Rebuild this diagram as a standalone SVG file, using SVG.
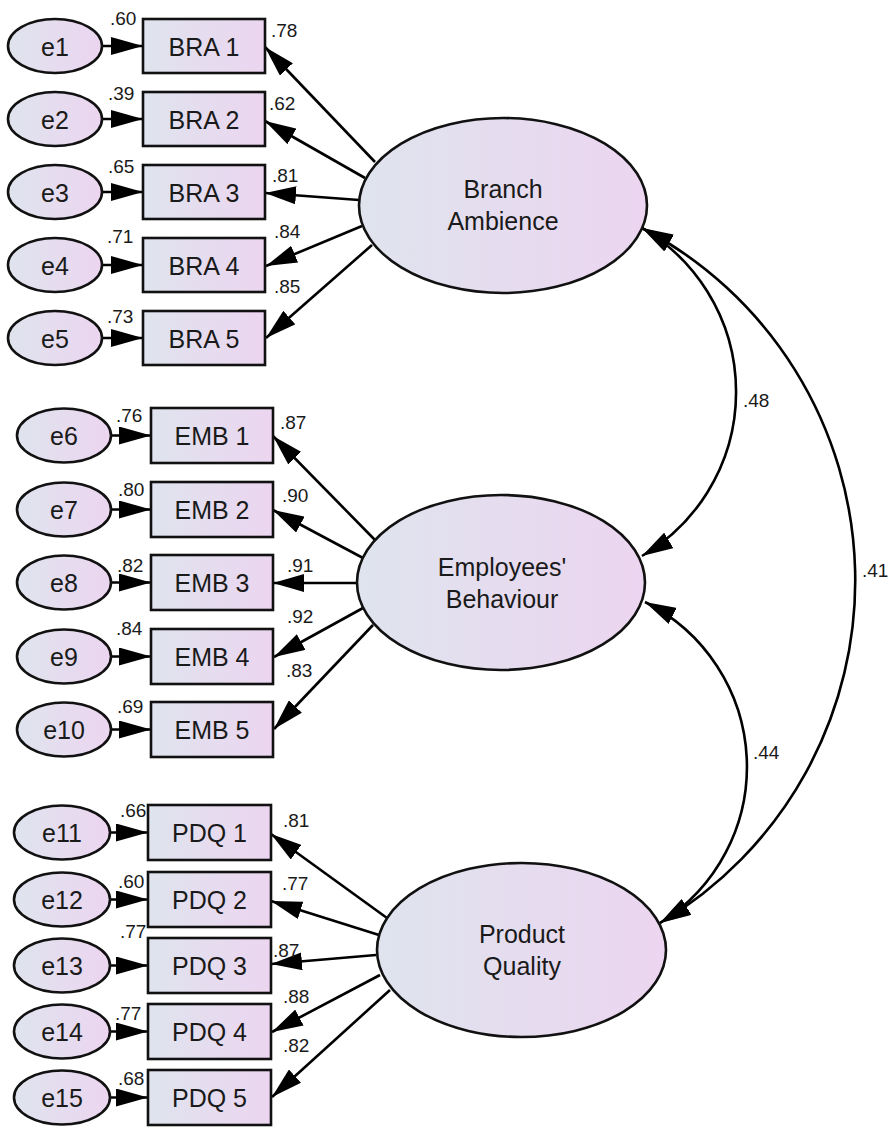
<svg xmlns="http://www.w3.org/2000/svg" width="889" height="1129" viewBox="0 0 889 1129">
<defs>
<linearGradient id="g" x1="0" y1="0" x2="1" y2="0">
<stop offset="0" stop-color="#dfe4ee"/>
<stop offset="1" stop-color="#ecd5f0"/>
</linearGradient>
<marker id="ah" viewBox="0 0 31 18" refX="31" refY="9" markerWidth="31" markerHeight="18" markerUnits="userSpaceOnUse" orient="auto-start-reverse">
<path d="M0,0 L31,9 L0,18 z" fill="#000"/>
</marker>
<marker id="as" viewBox="0 0 32 18" refX="32" refY="9" markerWidth="32" markerHeight="18" markerUnits="userSpaceOnUse" orient="auto">
<path d="M0,0 L32,9 L0,18 z" fill="#000"/>
</marker>
</defs>
<style>
.n{fill:url(#g);stroke:#111;stroke-width:2.6}
.t{font-family:"Liberation Sans",Arial,sans-serif;font-size:25px;fill:#1a1a1a;text-anchor:middle}
.v{font-family:"Liberation Sans",Arial,sans-serif;font-size:19px;fill:#1a1a1a}
.c{fill:none;stroke:#000;stroke-width:2.6}
.l{marker-end:url(#ah)}
.s{marker-end:url(#as)}
.b{marker-start:url(#ah);marker-end:url(#ah)}
</style>
<g id="connectors">
<path class="c s" d="M102 46 H143"/>
<path class="c s" d="M102 119 H143"/>
<path class="c s" d="M102 192 H143"/>
<path class="c s" d="M102 265 H143"/>
<path class="c s" d="M102 338 H143"/>
<path class="c s" d="M111 435.5 H151"/>
<path class="c s" d="M111 509.5 H151"/>
<path class="c s" d="M111 582.5 H151"/>
<path class="c s" d="M111 656.5 H151"/>
<path class="c s" d="M111 729.5 H151"/>
<path class="c s" d="M110 832.5 H148"/>
<path class="c s" d="M110 899.5 H148"/>
<path class="c s" d="M110 965.5 H148"/>
<path class="c s" d="M110 1031.5 H148"/>
<path class="c s" d="M110 1097.5 H148"/>
<path class="c l" d="M375 162 L265 47"/>
<path class="c l" d="M365 178 L265 121"/>
<path class="c l" d="M359 200 L265 193"/>
<path class="c l" d="M362 226 L266 266"/>
<path class="c l" d="M372 245 L266 338"/>
<path class="c l" d="M375 540 L273 436"/>
<path class="c l" d="M363 558 L273 510"/>
<path class="c l" d="M357 583 L273 583"/>
<path class="c l" d="M363 608 L274 657"/>
<path class="c l" d="M373 625 L274 729"/>
<path class="c l" d="M387 918 L271 834"/>
<path class="c l" d="M379 935 L271 901"/>
<path class="c l" d="M376 955 L271 964"/>
<path class="c l" d="M380 975 L272 1032"/>
<path class="c l" d="M390 990 L272 1097"/>
<path class="c b" d="M642 228 A190 190 0 0 1 642 556"/>
<path class="c b" d="M642 228 A398 398 0 0 1 660 923"/>
<path class="c b" d="M645 602 A184 184 0 0 1 660 923"/>
<text class="v" x="743" y="407">.48</text>
<text class="v" x="862" y="577">.41</text>
<text class="v" x="753" y="759">.44</text>
</g>
<g id="BranchAmbience"><ellipse class="n" cx="503" cy="205.5" rx="144" ry="87.5"/><text class="t" x="503" y="198">Branch</text><text class="t" x="503" y="230">Ambience</text></g>
<g id="EmployeesBehaviour"><ellipse class="n" cx="501" cy="582.5" rx="144" ry="87.5"/><text class="t" x="502" y="576">Employees'</text><text class="t" x="502" y="608">Behaviour</text></g>
<g id="ProductQuality"><ellipse class="n" cx="521.5" cy="950" rx="144.5" ry="87"/><text class="t" x="522" y="943">Product</text><text class="t" x="522" y="975">Quality</text></g>
<g id="BRA1"><rect class="n" x="143" y="19" width="122" height="54"/><text class="t" x="204" y="55.5">BRA 1</text><text class="v" x="271" y="37">.78</text></g>
<g id="BRA2"><rect class="n" x="143" y="92" width="122" height="54"/><text class="t" x="204" y="128.5">BRA 2</text><text class="v" x="269" y="110">.62</text></g>
<g id="BRA3"><rect class="n" x="143" y="165" width="122" height="54"/><text class="t" x="204" y="201.5">BRA 3</text><text class="v" x="272" y="182">.81</text></g>
<g id="BRA4"><rect class="n" x="143" y="238" width="122" height="54"/><text class="t" x="204" y="274.5">BRA 4</text><text class="v" x="274" y="238">.84</text></g>
<g id="BRA5"><rect class="n" x="143" y="311" width="122" height="54"/><text class="t" x="204" y="347.5">BRA 5</text><text class="v" x="274" y="293">.85</text></g>
<g id="e1"><ellipse class="n" cx="55" cy="46" rx="47" ry="27"/><text class="t" x="55" y="55.5">e1</text><text class="v" x="110" y="25">.60</text></g>
<g id="e2"><ellipse class="n" cx="55" cy="119" rx="47" ry="27"/><text class="t" x="55" y="128.5">e2</text><text class="v" x="108" y="100">.39</text></g>
<g id="e3"><ellipse class="n" cx="55" cy="192" rx="47" ry="27"/><text class="t" x="55" y="201.5">e3</text><text class="v" x="108" y="173">.65</text></g>
<g id="e4"><ellipse class="n" cx="55" cy="265" rx="47" ry="27"/><text class="t" x="55" y="274.5">e4</text><text class="v" x="107" y="243">.71</text></g>
<g id="e5"><ellipse class="n" cx="55" cy="338" rx="47" ry="27"/><text class="t" x="55" y="347.5">e5</text><text class="v" x="107" y="323">.73</text></g>
<g id="EMB1"><rect class="n" x="151" y="408" width="122" height="55"/><text class="t" x="212" y="445">EMB 1</text><text class="v" x="280" y="429">.87</text></g>
<g id="EMB2"><rect class="n" x="151" y="482" width="122" height="55"/><text class="t" x="212" y="519">EMB 2</text><text class="v" x="282" y="502">.90</text></g>
<g id="EMB3"><rect class="n" x="151" y="555" width="122" height="55"/><text class="t" x="212" y="592">EMB 3</text><text class="v" x="287" y="572">.91</text></g>
<g id="EMB4"><rect class="n" x="151" y="629" width="122" height="55"/><text class="t" x="212" y="666">EMB 4</text><text class="v" x="287" y="623">.92</text></g>
<g id="EMB5"><rect class="n" x="151" y="702" width="122" height="55"/><text class="t" x="212" y="739">EMB 5</text><text class="v" x="286" y="677">.83</text></g>
<g id="e6"><ellipse class="n" cx="64" cy="435.5" rx="47" ry="27"/><text class="t" x="64" y="445">e6</text><text class="v" x="116" y="422">.76</text></g>
<g id="e7"><ellipse class="n" cx="64" cy="509.5" rx="47" ry="27"/><text class="t" x="64" y="519">e7</text><text class="v" x="118" y="496">.80</text></g>
<g id="e8"><ellipse class="n" cx="64" cy="582.5" rx="47" ry="27"/><text class="t" x="64" y="592">e8</text><text class="v" x="117" y="572">.82</text></g>
<g id="e9"><ellipse class="n" cx="64" cy="656.5" rx="47" ry="27"/><text class="t" x="64" y="666">e9</text><text class="v" x="116" y="635">.84</text></g>
<g id="e10"><ellipse class="n" cx="64" cy="729.5" rx="47" ry="27"/><text class="t" x="64" y="739">e10</text><text class="v" x="117" y="713">.69</text></g>
<g id="PDQ1"><rect class="n" x="148" y="805" width="123" height="55"/><text class="t" x="209.5" y="842">PDQ 1</text><text class="v" x="283" y="827">.81</text></g>
<g id="PDQ2"><rect class="n" x="148" y="872" width="123" height="55"/><text class="t" x="209.5" y="909">PDQ 2</text><text class="v" x="282" y="890">.77</text></g>
<g id="PDQ3"><rect class="n" x="148" y="938" width="123" height="55"/><text class="t" x="209.5" y="975">PDQ 3</text><text class="v" x="273" y="957">.87</text></g>
<g id="PDQ4"><rect class="n" x="148" y="1004" width="123" height="55"/><text class="t" x="209.5" y="1041">PDQ 4</text><text class="v" x="283" y="1003">.88</text></g>
<g id="PDQ5"><rect class="n" x="148" y="1070" width="123" height="55"/><text class="t" x="209.5" y="1107">PDQ 5</text><text class="v" x="283" y="1052">.82</text></g>
<g id="e11"><ellipse class="n" cx="62" cy="832.5" rx="48" ry="27"/><text class="t" x="62" y="842">e11</text><text class="v" x="120" y="817">.66</text></g>
<g id="e12"><ellipse class="n" cx="62" cy="899.5" rx="48" ry="27"/><text class="t" x="62" y="909">e12</text><text class="v" x="118" y="888">.60</text></g>
<g id="e13"><ellipse class="n" cx="62" cy="965.5" rx="48" ry="27"/><text class="t" x="62" y="975">e13</text><text class="v" x="120" y="938">.77</text></g>
<g id="e14"><ellipse class="n" cx="62" cy="1031.5" rx="48" ry="27"/><text class="t" x="62" y="1041">e14</text><text class="v" x="115" y="1020">.77</text></g>
<g id="e15"><ellipse class="n" cx="62" cy="1097.5" rx="48" ry="27"/><text class="t" x="62" y="1107">e15</text><text class="v" x="118" y="1085">.68</text></g>
</svg>
